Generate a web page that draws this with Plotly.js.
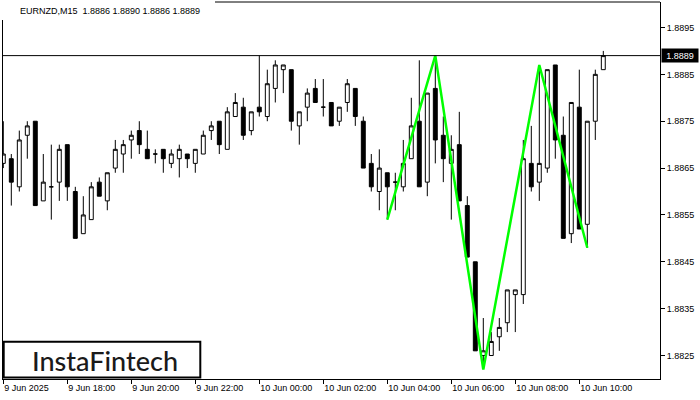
<!DOCTYPE html>
<html><head><meta charset="utf-8">
<script src="https://cdn.plot.ly/plotly-3.0.1.min.js"></script>
<style>html,body{margin:0;padding:0;background:#fff}#chart{width:700px;height:400px}</style>
</head><body><div id="chart"></div>
<script>
const symbol = "EURNZD,M15";
const tickBars = [0, 8, 16, 24, 32, 40, 48, 56, 64, 72];
const tickLabels = ["9 Jun 2025", "9 Jun 18:00", "9 Jun 20:00", "9 Jun 22:00", "10 Jun 00:00",
  "10 Jun 02:00", "10 Jun 04:00", "10 Jun 06:00", "10 Jun 08:00", "10 Jun 10:00"];

const openP = [1.8866,1.8867,1.8861,1.8872,1.8875,1.8858,1.8861,1.8862,1.8870,1.8860,
  1.8851,1.8854,1.8862,1.8858,1.8865,1.8868,1.8871,1.8873,1.8869,1.8868,
  1.8869,1.8866,1.8867,1.8868,1.8866,1.8868,1.8873,1.8875,1.8869,1.8876,
  1.8878,1.8873,1.8878,1.8876,1.8882,1.8886,1.8886,1.8874,1.8878,1.8882,
  1.8878,1.8879,1.8875,1.8879,1.8882,1.8875,1.8866,1.8860,1.8864,1.8862,
  1.8861,1.8867,1.8875,1.8862,1.8882,1.8872,1.8866,1.8870,1.8857,1.8845,
  1.8825,1.8825,1.8829,1.8832,1.8838,1.8838,1.8866,1.8862,1.8865,1.8887,
  1.8872,1.8851,1.8878,1.8853,1.8875,1.8886];
const highP = [1.8875,1.8868,1.8873,1.8875,1.8875,1.8868,1.8870,1.8870,1.8870,1.8861,
  1.8859,1.8862,1.8863,1.8864,1.8871,1.8871,1.8873,1.8875,1.8873,1.8869,
  1.8869,1.8869,1.8870,1.8868,1.8869,1.8873,1.8875,1.8875,1.8878,1.8881,
  1.8880,1.8877,1.8889,1.8886,1.8888,1.8887,1.8886,1.8877,1.8882,1.8884,
  1.8884,1.8879,1.8878,1.8884,1.8882,1.8876,1.8868,1.8869,1.8864,1.8864,
  1.8871,1.8880,1.8888,1.8881,1.8889,1.8876,1.8872,1.8877,1.8859,1.8845,
  1.8833,1.8830,1.8833,1.8839,1.8839,1.8871,1.8874,1.8887,1.8886,1.8887,
  1.8876,1.8879,1.8886,1.8875,1.8886,1.8890];
const lowP = [1.8865,1.8857,1.8860,1.8867,1.8857,1.8858,1.8854,1.8858,1.8858,1.8850,
  1.8851,1.8854,1.8859,1.8856,1.8864,1.8864,1.8867,1.8868,1.8867,1.8866,
  1.8864,1.8865,1.8863,1.8865,1.8864,1.8868,1.8871,1.8868,1.8869,1.8876,
  1.8871,1.8872,1.8876,1.8875,1.8879,1.8881,1.8873,1.8870,1.8875,1.8879,
  1.8876,1.8874,1.8874,1.8877,1.8874,1.8865,1.8860,1.8856,1.8854,1.8856,
  1.8860,1.8867,1.8861,1.8859,1.8866,1.8862,1.8854,1.8858,1.8846,1.8826,
  1.8823,1.8825,1.8826,1.8830,1.8830,1.8836,1.8860,1.8858,1.8864,1.8867,
  1.8850,1.8849,1.8852,1.8848,1.8871,1.8886];
const closeP = [1.8868,1.8862,1.8871,1.8874,1.8857,1.8862,1.8861,1.8869,1.8861,1.8850,
  1.8855,1.8861,1.8859,1.8864,1.8869,1.8870,1.8872,1.8870,1.8867,1.8868,
  1.8867,1.8868,1.8869,1.8867,1.8869,1.8872,1.8874,1.8870,1.8877,1.8879,
  1.8872,1.8877,1.8877,1.8883,1.8887,1.8887,1.8875,1.8877,1.8881,1.8879,
  1.8878,1.8874,1.8878,1.8883,1.8876,1.8865,1.8861,1.8865,1.8861,1.8862,
  1.8866,1.8874,1.8861,1.8881,1.8871,1.8867,1.8869,1.8858,1.8846,1.8826,
  1.8826,1.8828,1.8831,1.8839,1.8839,1.8867,1.8861,1.8866,1.8886,1.8871,
  1.8850,1.8879,1.8852,1.8875,1.8885,1.8889];

const patternBars = [48, 54, 60, 67, 73];
const patternPrices = [1.8854, 1.8889, 1.8822, 1.8887, 1.8848];
const priceTicks = [1.8825, 1.8835, 1.8845, 1.8855, 1.8865, 1.8875, 1.8885, 1.8895];
const logoText = "InstaFintech";

const bars = openP.map((_, i) => i);
const last = openP.length - 1;
const lastClose = closeP[last];

// pixel helpers for paper-space decorations (plot area: x 2..660, y 2..379)
const PL = 2, PR = 660, PT = 2, PB = 379;
const px = v => (v - PL) / (PR - PL);
const py = v => (PB - v) / (PB - PT);

const traces = [
  {
    type: 'candlestick', x: bars, open: openP, high: highP, low: lowP, close: closeP,
    increasing: {line: {color: '#000', width: 1}, fillcolor: '#fff'},
    decreasing: {line: {color: '#000', width: 1}, fillcolor: '#000'},
    whiskerwidth: 0, hoverinfo: 'skip', showlegend: false
  },
  {
    type: 'scatter', mode: 'lines', x: patternBars, y: patternPrices,
    line: {color: '#00ff00', width: 2.5}, hoverinfo: 'skip', showlegend: false
  }
];

const tfont = {family: 'Liberation Sans, Arial, sans-serif', size: 9, color: '#000'};
const hdr = symbol + '\u00a0\u00a0' + [openP[last], highP[last], lowP[last], closeP[last]].map(v => v.toFixed(4)).join(' ');

const layout = {
  width: 700, height: 400,
  margin: {l: PL, r: 700 - PR, t: PT, b: 400 - PB, pad: 0},
  paper_bgcolor: '#fff', plot_bgcolor: '#fff',
  showlegend: false, hovermode: false, dragmode: false,
  xaxis: {
    range: [-0.1625, 82.0875], tickmode: 'array', tickvals: tickBars, ticktext: tickLabels,
    ticks: 'outside', ticklen: 4, tickcolor: '#000', tickwidth: 1,
    ticklabelposition: 'outside right',
    showgrid: false, zeroline: false, showline: true, linecolor: '#000', linewidth: 1,
    tickfont: tfont, rangeslider: {visible: false}, fixedrange: true
  },
  yaxis: {
    side: 'right', range: [1.881999, 1.890044], tickmode: 'array', tickvals: priceTicks,
    ticktext: priceTicks.map(v => v.toFixed(4)),
    ticks: 'outside', ticklen: 4, tickcolor: '#000', tickwidth: 1,
    showgrid: false, zeroline: false, showline: true, linecolor: '#000', linewidth: 1,
    tickfont: tfont, fixedrange: true
  },
  shapes: [
    {type: 'line', xref: 'paper', yref: 'y', x0: 0, x1: 1, y0: lastClose, y1: lastClose,
     line: {color: '#000', width: 1}},
    {type: 'line', xref: 'paper', yref: 'paper', x0: px(215), x1: 1, y0: 1, y1: 1,
     line: {color: '#000', width: 1}},
    {type: 'line', xref: 'paper', yref: 'paper', x0: px(2.5), x1: px(2.5), y0: 0, y1: py(20),
     line: {color: '#000', width: 1}},
    {type: 'rect', xref: 'paper', yref: 'paper', x0: px(3.7), x1: px(200.3), y0: py(377.5), y1: py(341.7),
     line: {color: '#000', width: 2}, fillcolor: '#fff', layer: 'above'}
  ],
  annotations: [
    {xref: 'paper', yref: 'paper', x: px(18), y: py(11), xanchor: 'left', yanchor: 'middle',
     text: hdr, showarrow: false, font: tfont},
    {xref: 'paper', yref: 'y', x: px(661), y: lastClose, xanchor: 'left', yanchor: 'middle',
     text: lastClose.toFixed(4), showarrow: false, bgcolor: '#000', width: 34, height: 11,
     borderpad: 1, font: {family: 'Liberation Sans, Arial, sans-serif', size: 9, color: '#fff'}},
    {xref: 'paper', yref: 'paper', x: px(105), y: py(360), xanchor: 'center', yanchor: 'middle',
     text: logoText, showarrow: false,
     font: {family: 'Lato, Inter, sans-serif', size: 27, color: '#1a1a1a', weight: 500}}
  ]
};

Plotly.newPlot('chart', traces, layout, {staticPlot: true, displayModeBar: false});
</script>
</body></html>
